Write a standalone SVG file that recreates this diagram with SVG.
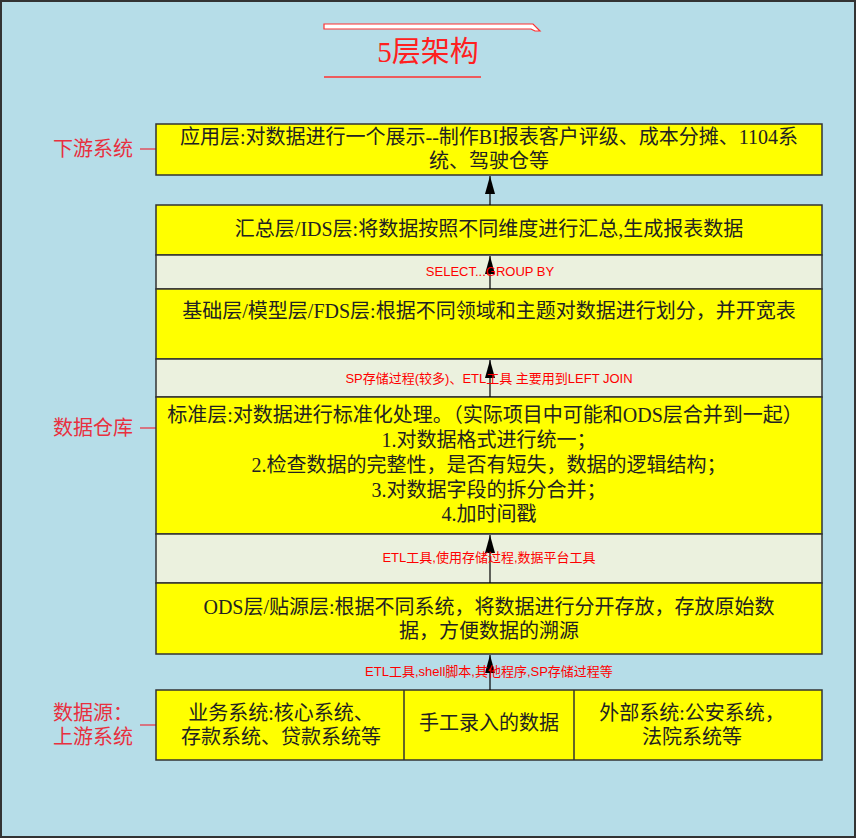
<svg xmlns="http://www.w3.org/2000/svg" width="858" height="840" viewBox="0 0 858 840">
<style>
.box{fill:#FFFF00;stroke:#333;stroke-width:1.5}
.band{fill:#EBF1DE;stroke:#333;stroke-width:1.5}
.t{font-family:"Liberation Serif","Noto Sans CJK SC",serif;font-size:20px;fill:#222;text-anchor:middle;dominant-baseline:central}
.b{font-family:"Liberation Sans Narrow","Liberation Sans","Noto Sans CJK SC",sans-serif;font-size:13px;fill:#FF0000;text-anchor:middle;dominant-baseline:central}
.l{font-family:"Liberation Serif","Noto Sans CJK SC",serif;font-size:20px;fill:#E8303F;text-anchor:start;dominant-baseline:central}
.lk{stroke:#E0505F;stroke-width:1.5}
.ar{stroke:#000;stroke-width:1.2}
</style>
<defs>
<marker id="ah" viewBox="0 0 18 10" refX="18" refY="5" markerWidth="18" markerHeight="10" markerUnits="userSpaceOnUse" orient="auto">
<path d="M0,0 L18,5 L0,10 Z" fill="#000"/>
</marker>
</defs>
<rect x="1" y="1" width="854" height="836" fill="#B6DDE8" stroke="#333" stroke-width="2"/>
<g id="title">
<path d="M324,24 H533 L540,31 H535 L531,29 H324 Z" fill="#FFFFFF" stroke="#FF3030" stroke-width="1.2"/>
<text x="428" y="52" font-family="Liberation Serif,'Noto Sans CJK SC',serif" font-size="29" fill="#FF2020" text-anchor="middle" dominant-baseline="central">5层架构</text>
<line x1="324" y1="77" x2="481" y2="77" stroke="#FF3030" stroke-width="1.5"/>
</g>
<g id="labels">
<text class="l" x="53" y="149">下游系统</text>
<line class="lk" x1="140" y1="149" x2="156" y2="149"/>
<text class="l" x="53" y="428">数据仓库</text>
<line class="lk" x1="140" y1="428" x2="156" y2="428"/>
<text class="l" x="53" y="713">数据源：</text>
<text class="l" x="53" y="737">上游系统</text>
<line class="lk" x1="140" y1="725" x2="156" y2="725"/>
</g>
<g id="app">
<rect class="box" x="156" y="124" width="666" height="51"/>
<text class="t" x="489" y="137">应用层:对数据进行一个展示--制作BI报表客户评级、成本分摊、1104系</text>
<text class="t" x="489" y="161">统、驾驶仓等</text>
</g>
<g id="ids">
<rect class="box" x="156" y="205" width="666" height="50"/>
<text class="t" x="489" y="229">汇总层/IDS层:将数据按照不同维度进行汇总,生成报表数据</text>
</g>
<g id="band1">
<rect class="band" x="156" y="255" width="666" height="34"/>
</g>
<g id="fds">
<rect class="box" x="156" y="289" width="666" height="70"/>
<text class="t" x="489" y="311">基础层/模型层/FDS层:根据不同领域和主题对数据进行划分，并开宽表</text>
</g>
<g id="band2">
<rect class="band" x="156" y="359" width="666" height="38"/>
</g>
<g id="std">
<rect class="box" x="156" y="397" width="666" height="137"/>
<text class="t" x="485" y="415">标准层:对数据进行标准化处理。（实际项目中可能和ODS层合并到一起）</text>
<text class="t" x="489" y="440">1.对数据格式进行统一；</text>
<text class="t" x="489" y="465">2.检查数据的完整性，是否有短失，数据的逻辑结构；</text>
<text class="t" x="489" y="490">3.对数据字段的拆分合并；</text>
<text class="t" x="489" y="514">4.加时间戳</text>
</g>
<g id="band3">
<rect class="band" x="156" y="534" width="666" height="49"/>
</g>
<g id="ods">
<rect class="box" x="156" y="583" width="666" height="71"/>
<text class="t" x="489" y="607">ODS层/贴源层:根据不同系统，将数据进行分开存放，存放原始数</text>
<text class="t" x="489" y="631">据，方便数据的溯源</text>
</g>
<g id="sources">
<rect class="box" x="156" y="690" width="666" height="70"/>
<line x1="404" y1="690" x2="404" y2="760" stroke="#333" stroke-width="1.5"/>
<line x1="574" y1="690" x2="574" y2="760" stroke="#333" stroke-width="1.5"/>
<text class="t" x="281" y="713">业务系统:核心系统、</text>
<text class="t" x="281" y="737">存款系统、贷款系统等</text>
<text class="t" x="489" y="723">手工录入的数据</text>
<text class="t" x="692" y="713">外部系统:公安系统，</text>
<text class="t" x="692" y="737">法院系统等</text>
</g>
<g id="connectors">
<line class="ar" x1="490" y1="205" x2="490" y2="176" marker-end="url(#ah)"/>
<line class="ar" x1="490" y1="289" x2="490" y2="256" marker-end="url(#ah)"/>
<line class="ar" x1="490" y1="397" x2="490" y2="360" marker-end="url(#ah)"/>
<line class="ar" x1="490" y1="583" x2="490" y2="535" marker-end="url(#ah)"/>
<line class="ar" x1="490" y1="690" x2="490" y2="655" marker-end="url(#ah)"/>
<text class="b" x="490" y="271">SELECT...GROUP BY</text>
<text class="b" x="489" y="378">SP存储过程(较多)、ETL工具 主要用到LEFT JOIN</text>
<text class="b" x="489" y="557">ETL工具,使用存储过程,数据平台工具</text>
<text class="b" x="489" y="671">ETL工具,shell脚本,其他程序,SP存储过程等</text>
</g>
</svg>
